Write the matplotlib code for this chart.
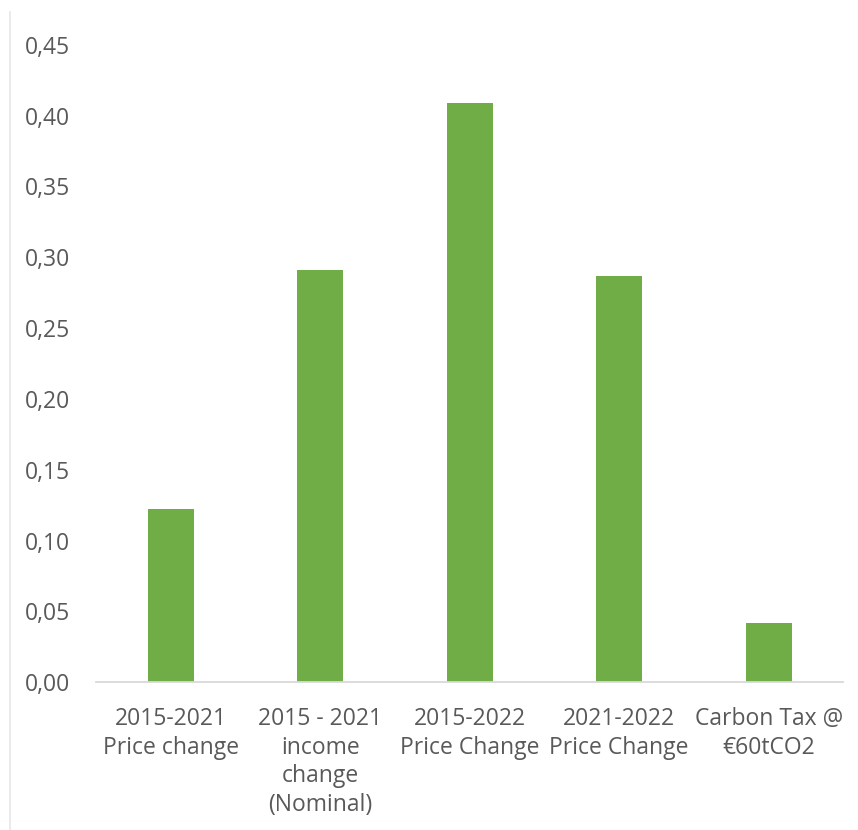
import matplotlib.pyplot as plt
from matplotlib.ticker import FuncFormatter

# values
categories = ["2015-2021\nPrice change",
              "2015 - 2021\nincome\nchange\n(Nominal)",
              "2015-2022\nPrice Change",
              "2021-2022\nPrice Change",
              "Carbon Tax @\n€60tCO2"]
values = [0.122, 0.291, 0.409, 0.287, 0.042]
yticks = [0.00, 0.05, 0.10, 0.15, 0.20, 0.25, 0.30, 0.35, 0.40, 0.45]

TEXT = "#595959"
GREEN = "#70AD47"

plt.rcParams['font.family'] = ['Open Sans', 'DejaVu Sans']

fig = plt.figure(figsize=(8.58, 8.30), dpi=100)
ax = fig.add_axes([0.112, 0.178, 0.871, 0.768])

x = list(range(len(categories)))
ax.bar(x, values, width=0.31, color=GREEN, zorder=2)

ax.set_xlim(-0.5, len(categories) - 0.5)
ax.set_ylim(0, 0.45)
ax.set_yticks(yticks)
ax.yaxis.set_major_formatter(FuncFormatter(lambda v, p: f"{v:.2f}".replace(".", ",")))
ax.set_xticks(x)
ax.set_xticklabels(categories, linespacing=1.25)

ax.tick_params(axis='y', length=0, pad=19, labelsize=16.5, labelcolor=TEXT)
ax.tick_params(axis='x', length=0, pad=18, labelsize=16.5, labelcolor=TEXT)

for side in ['top', 'right', 'left']:
    ax.spines[side].set_visible(False)
ax.spines['bottom'].set_color("#D9D9D9")
ax.spines['bottom'].set_linewidth(1.3)

# faint frame line at left edge of the picture
fig.add_artist(plt.Line2D([0.012, 0.012], [0, 0.985], color="#E6E6E6", lw=1.2))

fig.savefig("out.png", dpi=100)
